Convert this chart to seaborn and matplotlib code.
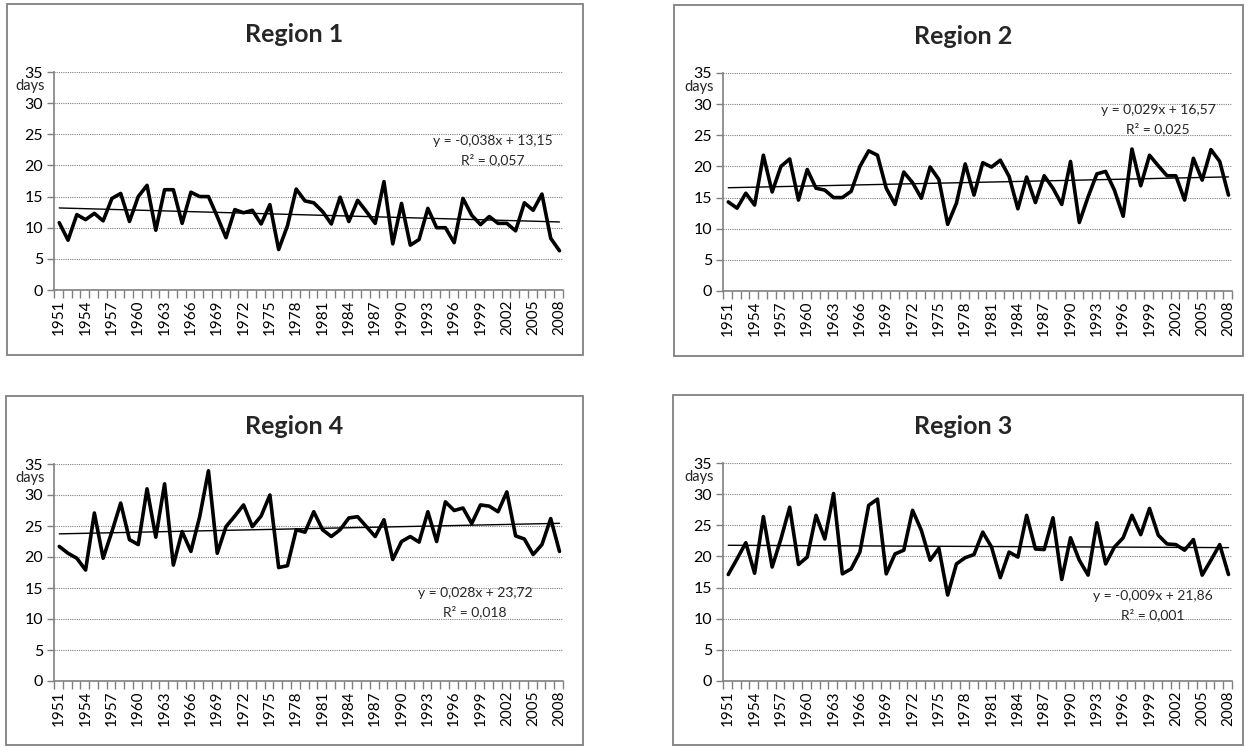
import numpy as np
import pandas as pd
import seaborn as sns
import matplotlib.pyplot as plt
from matplotlib.patches import Rectangle
from matplotlib.ticker import FixedLocator

years = list(range(1951, 2009))

region1 = [10.8, 8.0, 12.1, 11.3, 12.3, 11.1, 14.7, 15.5, 11.0, 15.0,
           16.8, 9.6, 16.1, 16.1, 10.7, 15.7, 15.0, 15.0, 11.8, 8.4,
           12.9, 12.4, 12.8, 10.6, 13.7, 6.5, 10.3, 16.2, 14.3, 14.0,
           12.6, 10.6, 14.9, 11.0, 14.4, 12.6, 10.7, 17.4, 7.4, 13.9,
           7.2, 8.1, 13.1, 10.0, 10.0, 7.6, 14.7, 12.0, 10.5, 11.8,
           10.7, 10.7, 9.5, 14.0, 12.8, 15.4, 8.3, 6.3]

region2 = [14.3, 13.3, 15.7, 13.8, 21.8, 15.9, 20.0, 21.2, 14.6, 19.5,
           16.5, 16.2, 15.0, 15.0, 16.0, 20.0, 22.5, 21.8, 16.5, 13.9,
           19.1, 17.4, 14.9, 19.9, 17.9, 10.7, 14.1, 20.4, 15.4, 20.6,
           19.9, 21.0, 18.4, 13.2, 18.3, 14.2, 18.5, 16.5, 13.9, 20.8,
           11.0, 15.1, 18.8, 19.2, 16.2, 12.0, 22.8, 16.9, 21.8, 20.1,
           18.5, 18.5, 14.6, 21.3, 17.8, 22.7, 20.8, 15.4]

region4 = [21.7, 20.6, 19.8, 17.9, 27.1, 19.8, 24.1, 28.7, 22.8, 22.0,
           31.0, 23.2, 31.8, 18.7, 24.1, 20.9, 26.5, 33.9, 20.6, 24.9,
           26.6, 28.4, 24.9, 26.6, 30.0, 18.3, 18.6, 24.4, 24.0, 27.3,
           24.4, 23.3, 24.4, 26.3, 26.5, 24.9, 23.3, 26.0, 19.6, 22.5,
           23.3, 22.4, 27.3, 22.5, 28.9, 27.5, 27.9, 25.4, 28.4, 28.2,
           27.3, 30.5, 23.4, 22.9, 20.4, 22.0, 26.2, 20.9]

region3 = [17.1, 19.6, 22.2, 17.3, 26.4, 18.3, 22.8, 27.9, 18.7, 19.9,
           26.6, 22.8, 30.1, 17.2, 18.0, 20.7, 28.2, 29.2, 17.2, 20.4,
           21.0, 27.4, 24.2, 19.4, 21.3, 13.8, 18.8, 19.8, 20.3, 23.9,
           21.5, 16.6, 20.7, 19.9, 26.6, 21.2, 21.1, 26.2, 16.3, 23.0,
           19.4, 17.0, 25.4, 18.8, 21.5, 23.0, 26.6, 23.5, 27.7, 23.4,
           22.0, 21.9, 21.0, 22.7, 17.0, 19.4, 21.9, 17.1]

titles = ['Region 1', 'Region 2', 'Region 4', 'Region 3']
equations = ['y = -0,038x + 13,15', 'y = 0,029x + 16,57',
             'y = 0,028x + 23,72', 'y = -0,009x + 21,86']
r_squared = ['R\u00b2 = 0,057', 'R\u00b2 = 0,025', 'R\u00b2 = 0,018', 'R\u00b2 = 0,001']

sns.set_style('white')
plt.rcParams['font.family'] = ['Lato', 'DejaVu Sans']

W, H = 1247, 746
fig = plt.figure(figsize=(W / 100, H / 100), dpi=100)


def fx(px):
    return px / W


def fy(py):
    return 1 - py / H


# panel layout in pixels: (box l, t, r, b), (axes l, t, r, b), eq pos (year, value), title y
layout = [
    ((7, 4, 583, 355), (54, 72, 563, 290), (2000.4, 24.0, 20.9), 35),
    ((674, 5, 1243, 356), (723, 73, 1232, 291), (2000.0, 29.1, 26.1), 36),
    ((6, 396, 583, 745), (54, 464, 563, 681), (1998.4, 14.2, 11.2), 426),
    ((673, 395, 1243, 745), (723, 463, 1232, 681), (1999.4, 13.7, 10.7), 426),
]
series = [region1, region2, region4, region3]
grey = '#808080'

for (title, values, eq, r2, (box, area, eqpos, ty)) in zip(
        titles, series, equations, r_squared, layout):
    (bl, bt, br, bb) = box
    fig.patches.append(Rectangle((fx(bl), fy(bb)), fx(br - bl), (bb - bt) / H,
                                 transform=fig.transFigure, fill=False,
                                 edgecolor=grey, linewidth=1.3))
    (al, at, ar, ab) = area
    ax = fig.add_axes([fx(al), fy(ab), fx(ar - al), (ab - at) / H])

    df = pd.DataFrame({'year': years, 'days': values})
    sns.lineplot(data=df, x='year', y='days', ax=ax, color='black',
                 linewidth=2.6)
    sns.regplot(data=df, x='year', y='days', ax=ax, scatter=False, ci=None,
                line_kws={'color': 'black', 'linewidth': 1.0})

    ax.set_xlim(1950.4, 2008.4)
    ax.set_ylim(0, 35)
    ax.set_yticks(range(0, 36, 5))
    ax.set_xticks(years[::3])
    ax.set_xticklabels([str(y) for y in years[::3]], rotation=90)
    ax.xaxis.set_minor_locator(FixedLocator(np.arange(1950.4, 2008.5, 1.0)))
    ax.tick_params(axis='x', which='major', length=0, pad=7,
                   labelsize=11, labelcolor='black')
    ax.tick_params(axis='x', which='minor', length=6, width=1.0,
                   color=grey, direction='out', bottom=True)
    ax.tick_params(axis='y', which='major', length=5, width=1.0,
                   color=grey, direction='out', left=True, pad=3,
                   labelsize=11.5, labelcolor='black')
    ax.set_xlabel('')
    ax.set_ylabel('')
    for s in ('top', 'right'):
        ax.spines[s].set_visible(False)
    for s in ('left', 'bottom'):
        ax.spines[s].set_color(grey)
        ax.spines[s].set_linewidth(1.2)
    ax.yaxis.grid(True, color=grey, linestyle=(0, (1, 1)), linewidth=0.8)
    ax.xaxis.grid(False)
    ax.set_axisbelow(True)

    ax.text(-0.047, 0.935, 'days', transform=ax.transAxes, ha='center',
            va='center', fontsize=10.5)
    ax.text(eqpos[0], eqpos[1], eq, ha='center', va='center', fontsize=10)
    ax.text(eqpos[0], eqpos[2], r2, ha='center', va='center', fontsize=10)

    fig.text(fx((al + ar) / 2 - 14), fy(ty), title, ha='center', va='center',
             fontsize=18, fontweight='bold')

fig.savefig('out.png', dpi=100)
